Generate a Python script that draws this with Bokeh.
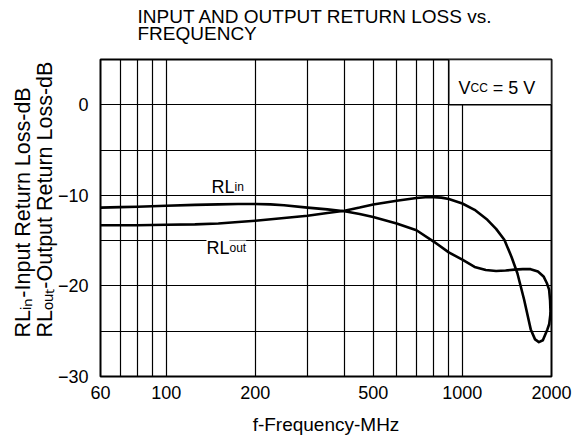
import math
from bokeh.plotting import figure
from bokeh.models import FixedTicker, Label, Range1d, Title
from bokeh.embed import file_html
from bokeh.resources import INLINE

# ---------------- data ----------------
freq_in = [60, 70, 80, 100, 125, 150, 175, 200, 225, 250, 300, 350, 400, 450, 500,
           600, 700, 800, 900, 1000, 1100, 1200, 1300, 1400, 1500, 1600, 1700, 1800,
           1880, 1930, 1963, 1978, 1985]
rl_in = [-11.35, -11.3, -11.25, -11.15, -11.05, -11.0, -10.95, -10.95, -11.0, -11.1,
         -11.35, -11.55, -11.75, -12.05, -12.4, -13.1, -13.85, -15.1, -16.3, -17.1,
         -17.9, -18.25, -18.35, -18.3, -18.2, -18.15, -18.15, -18.4, -18.95, -19.7,
         -20.4, -21.6, -23.0]

freq_out = [60, 70, 80, 100, 125, 150, 175, 200, 250, 300, 350, 400, 450, 500, 600,
            700, 750, 800, 850, 900, 1000, 1100, 1215, 1300, 1386, 1466, 1534, 1616,
            1702, 1760, 1814, 1870, 1937, 1965, 1985]
rl_out = [-13.3, -13.3, -13.3, -13.25, -13.2, -13.1, -12.95, -12.8, -12.5, -12.25,
          -11.95, -11.7, -11.35, -11.0, -10.6, -10.3, -10.2, -10.2, -10.25, -10.4,
          -10.9, -11.6, -12.7, -13.7, -14.9, -16.8, -18.6, -21.5, -24.8, -25.9,
          -26.2, -26.0, -24.8, -24.2, -23.0]

x_ticks = [60, 100, 200, 500, 1000, 2000]
x_grid = [70, 80, 90, 100, 200, 300, 400, 500, 600, 700, 800, 900, 1000]
y_ticks = [-30, -20, -10, 0]
y_grid = [-25, -20, -15, -10, -5, 0]
y_tick_labels = {-30: "\u221230", -20: "\u221220", -10: "\u221210", 0: "0"}
title_lines = ["INPUT AND OUTPUT RETURN LOSS vs.", "FREQUENCY"]
x_label = "f-Frequency-MHz"
y_label_lines = ["RL\u1d62\u2099-Input Return Loss-dB",
                 "RL\u2092\u1d64\u209c-Output Return Loss-dB"]
vcc_box_x = [900, 2000]
vcc_box_y = [0, 5]

# ---------------- layout ----------------
W, H = 582, 439
FL, FR, FT, FB = 100, 551, 59, 376
XMIN, XMAX, YMIN, YMAX = 60, 2000, -30, 5
FONT = "Liberation Sans"

AW = {' ': 278, '-': 333, '=': 584, '5': 556, 'B': 667, 'C': 722, 'I': 278, 'L': 556,
      'O': 778, 'R': 722, 'V': 667, 'd': 556, 'e': 556, 'i': 222, 'n': 556, 'o': 556,
      'p': 556, 'r': 333, 's': 500, 't': 278, 'u': 556}


def tw(s, size):
    return sum(AW.get(c, 556) for c in s) * size / 1000.0


p = figure(width=W, height=H, x_axis_type="log",
           x_range=Range1d(XMIN, XMAX), y_range=Range1d(YMIN, YMAX),
           output_backend="svg", toolbar_location=None,
           min_border_left=FL, min_border_right=W - FR,
           min_border_top=FT, min_border_bottom=H - FB)
p.title = None
p.background_fill_color = "white"
p.border_fill_color = "white"
p.outline_line_color = "black"
p.outline_line_width = 2
p.outline_line_alpha = 1

for ax in (p.xaxis[0], p.yaxis[0]):
    ax.major_tick_line_color = None
    ax.minor_tick_line_color = None
    ax.axis_line_color = None
    ax.major_label_text_font = FONT
    ax.major_label_text_font_size = "18px"
    ax.major_label_text_color = "black"
p.xaxis[0].major_label_standoff = 3
p.yaxis[0].major_label_standoff = 6

p.xaxis[0].ticker = FixedTicker(ticks=x_ticks, minor_ticks=[])
p.yaxis[0].ticker = FixedTicker(ticks=y_ticks, minor_ticks=[])
p.yaxis[0].major_label_overrides = y_tick_labels

p.xaxis[0].axis_label = x_label
p.xaxis[0].axis_label_text_font = FONT
p.xaxis[0].axis_label_text_font_size = "19px"
p.xaxis[0].axis_label_text_font_style = "normal"
p.xaxis[0].axis_label_text_color = "black"
p.xaxis[0].axis_label_standoff = 12

p.xgrid.ticker = FixedTicker(ticks=x_grid)
p.ygrid.ticker = FixedTicker(ticks=y_grid)
for g in (p.xgrid, p.ygrid):
    g.grid_line_color = "black"
    g.grid_line_alpha = 1
    g.grid_line_width = 1.2

# title (above): first added is nearest the frame
p.add_layout(Title(text=title_lines[1], align="left", offset=137 - FL, standoff=32,
                   text_font=FONT, text_font_size="19px", text_font_style="normal",
                   text_color="black"), "above")
p.add_layout(Title(text=title_lines[0], align="left", offset=137 - FL, standoff=-45,
                   text_font=FONT, text_font_size="19px", text_font_style="normal",
                   text_color="black"), "above")

# y label (left): first added is nearest the axis
p.add_layout(Title(text=y_label_lines[1], align="left", offset=FB - 337, standoff=-5,
                   text_font=FONT, text_font_size="21.5px", text_font_style="normal",
                   text_color="black"), "left")
p.add_layout(Title(text=y_label_lines[0], align="left", offset=FB - 337, standoff=-3,
                   text_font=FONT, text_font_size="21.5px", text_font_style="normal",
                   text_color="black"), "left")

# curves
p.line(freq_in, rl_in, line_color="black", line_width=2.6, line_join="round", line_cap="round")
p.line(freq_out, rl_out, line_color="black", line_width=2.6, line_join="round", line_cap="round")

# Vcc box
p.quad(left=[vcc_box_x[0]], right=[vcc_box_x[1]], bottom=[vcc_box_y[0]], top=[vcc_box_y[1]],
       fill_color="white", line_color="black", line_width=1.5)


def lab(px, py, text, size, align="left", bg=None):
    x = 10 ** (math.log10(XMIN) + (px - FL) / (FR - FL) * math.log10(XMAX / XMIN))
    y = YMAX - (py - FT) / (FB - FT) * (YMAX - YMIN)
    kw = {}
    if bg is not None:
        kw["background_fill_color"] = bg
    l = Label(x=x, y=y, text=text, text_font=FONT, text_font_size=f"{size}px",
              text_color="black", text_align=align, text_baseline="alphabetic", **kw)
    p.add_layout(l)


# Vcc text
vx, vy = 458, 87
lab(vx, vy, "V", 18)
lab(vx + tw("V", 18), vy, "CC", 12)
lab(vx + tw("V", 18) + tw("CC", 12) + tw(" ", 18), vy, "= 5 V", 18)

# curve labels
lab(211, 186, "RL", 18)
lab(211 + tw("RL", 18), 186, "in", 12)
lab(206, 247, "RL", 18, bg="white")
lab(206 + tw("RL", 18), 247, "out", 12, bg="white")

open("out.html", "w").write(file_html(p, INLINE))
